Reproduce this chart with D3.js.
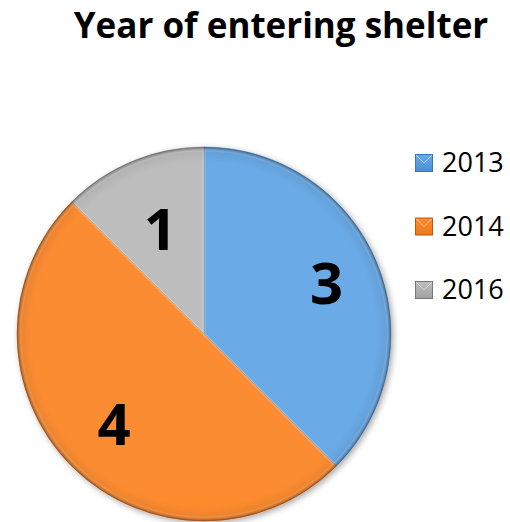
<!DOCTYPE html>
<html>
<head>
<meta charset="utf-8">
<script src="https://cdn.jsdelivr.net/npm/d3@7"></script>
<style>
  html, body { margin: 0; padding: 0; background: #ffffff; }
  svg { display: block; }
</style>
</head>
<body>
<svg id="chart" width="510" height="522"></svg>
<script>
// Shelter entries by year
const categories = ["2013", "2014", "2016"];
const values = [3, 4, 1];
const title = "Year of entering shelter";

const palette = {
  "2013": { light: "#6aaae6", mid: "#5a9fe0", dark: "#4a8fd7", edge: "#3a74b0" },
  "2014": { light: "#fc8c30", mid: "#fa8326", dark: "#f0761a", edge: "#b85510" },
  "2016": { light: "#bdbdbd", mid: "#b0b0b0", dark: "#a2a2a2", edge: "#777777" }
};
// Distance of each value label from the centre, as a share of the radius
const labelRadius = { "2013": 0.71, "2014": 0.68, "2016": 0.61 };

const svg = d3.select("#chart");
const cx = 204, cy = 334, radius = 187;

const defs = svg.append("defs");

// Slice gradients: lighter toward the top, deeper toward the bottom
categories.forEach((c, i) => {
  const g = defs.append("linearGradient")
    .attr("id", "grad" + i)
    .attr("gradientUnits", "userSpaceOnUse")
    .attr("x1", 0).attr("y1", cy - radius)
    .attr("x2", 0).attr("y2", cy + radius);
  g.append("stop").attr("offset", "0%").attr("stop-color", palette[c].light);
  g.append("stop").attr("offset", "55%").attr("stop-color", palette[c].mid);
  g.append("stop").attr("offset", "100%").attr("stop-color", palette[c].dark);

  // legend swatch gradient
  const s = defs.append("linearGradient")
    .attr("id", "sw" + i)
    .attr("x1", 0).attr("y1", 0).attr("x2", 0).attr("y2", 1);
  s.append("stop").attr("offset", "0%").attr("stop-color", palette[c].light);
  s.append("stop").attr("offset", "100%").attr("stop-color", palette[c].dark);
});

// Rim shading for a bevelled look
const rim = defs.append("radialGradient")
  .attr("id", "rim")
  .attr("gradientUnits", "userSpaceOnUse")
  .attr("cx", cx).attr("cy", cy).attr("r", radius);
rim.append("stop").attr("offset", "0.92").attr("stop-color", "#000").attr("stop-opacity", 0);
rim.append("stop").attr("offset", "0.98").attr("stop-color", "#000").attr("stop-opacity", 0.06);
rim.append("stop").attr("offset", "1").attr("stop-color", "#000").attr("stop-opacity", 0.35);

const shadow = defs.append("filter").attr("id", "shadow")
  .attr("x", "-10%").attr("y", "-10%").attr("width", "120%").attr("height", "120%");
shadow.append("feGaussianBlur").attr("in", "SourceAlpha").attr("stdDeviation", 3);
shadow.append("feOffset").attr("dx", 2).attr("dy", 2).attr("result", "b");
shadow.append("feComponentTransfer").append("feFuncA").attr("type", "linear").attr("slope", 0.35);
const merge = shadow.append("feMerge");
merge.append("feMergeNode");
merge.append("feMergeNode").attr("in", "SourceGraphic");

// Title
svg.append("text")
  .attr("x", 281).attr("y", 38)
  .attr("text-anchor", "middle")
  .attr("font-family", "'Open Sans', sans-serif")
  .attr("font-weight", 700)
  .attr("font-size", 35)
  .attr("fill", "#000")
  .text(title);

// Pie
const data = categories.map((c, i) => ({ cat: c, value: values[i], idx: i }));
const pie = d3.pie().value(d => d.value).sort(null);
const arcs = pie(data);
const arc = d3.arc().innerRadius(0).outerRadius(radius);
const innerArc = d3.arc().innerRadius(0).outerRadius(radius - 3);

const g = svg.append("g").attr("transform", `translate(${cx},${cy})`);

const slices = g.append("g").attr("filter", "url(#shadow)");
slices.selectAll("path.slice")
  .data(arcs)
  .join("path")
  .attr("class", "slice")
  .attr("d", arc)
  .attr("fill", d => `url(#grad${d.data.idx})`)
  .attr("stroke", d => palette[d.data.cat].edge)
  .attr("stroke-width", 0.8)
  .attr("stroke-opacity", 0.6);

// Soft highlight inset along each slice's edges
g.selectAll("path.hi")
  .data(arcs)
  .join("path")
  .attr("class", "hi")
  .attr("d", innerArc)
  .attr("fill", "none")
  .attr("stroke", "#ffffff")
  .attr("stroke-opacity", 0.12)
  .attr("stroke-width", 3);

// Outer rim darkening
g.append("circle")
  .attr("r", radius)
  .attr("fill", "url(#rim)")
  .attr("transform", `translate(${-cx},${-cy})`)
  .attr("cx", cx).attr("cy", cy);

// Value labels
g.selectAll("text.val")
  .data(arcs)
  .join("text")
  .attr("class", "val")
  .attr("transform", d => {
    const r = radius * labelRadius[d.data.cat];
    const [x, y] = d3.arc().innerRadius(r).outerRadius(r).centroid(d);
    return `translate(${x},${y})`;
  })
  .attr("text-anchor", "middle")
  .attr("dy", "0.36em")
  .attr("font-family", "'Open Sans', sans-serif")
  .attr("font-weight", 700)
  .attr("font-size", 58)
  .attr("fill", "#000")
  .text(d => d.data.value);

// Legend
const legend = svg.append("g").attr("transform", "translate(415,0)");
const legendY = d3.scalePoint().domain(categories).range([172, 299]);
const rows = legend.selectAll("g.row")
  .data(data)
  .join("g")
  .attr("class", "row")
  .attr("transform", d => `translate(0,${legendY(d.cat)})`);

rows.append("rect")
  .attr("x", 0.5).attr("y", -17.5)
  .attr("width", 17).attr("height", 17)
  .attr("fill", d => `url(#sw${d.idx})`)
  .attr("stroke", d => palette[d.cat].edge)
  .attr("stroke-width", 1);

rows.append("path")
  .attr("d", "M1,-17 L9,-9 L17,-17")
  .attr("fill", "none")
  .attr("stroke", "#ffffff")
  .attr("stroke-opacity", 0.5)
  .attr("stroke-width", 1);

rows.append("text")
  .attr("x", 27).attr("y", 0)
  .attr("font-family", "'Open Sans', sans-serif")
  .attr("font-size", 27)
  .attr("fill", "#000")
  .text(d => d.cat);
</script>
</body>
</html>
